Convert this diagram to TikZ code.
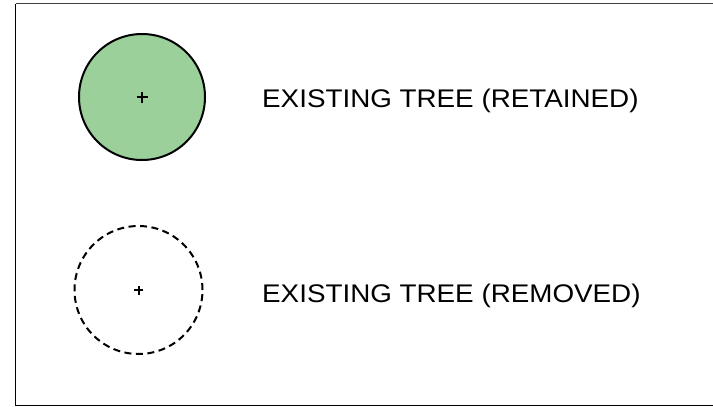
\documentclass[tikz,border=0pt]{standalone}
\usepackage{fontspec}
\setmainfont{Liberation Sans}
\tikzset{
  tree/.style={circle, draw=black, line width=2pt, minimum size=126pt, inner sep=0pt},
  legendtext/.style={anchor=base west, inner sep=0pt, font=\fontsize{25.5pt}{30pt}\selectfont},
  plusmark/.style={line width=2pt}
}
\definecolor{treegreen}{HTML}{9BD09B}
\begin{document}
\begin{tikzpicture}[x=1pt,y=-1pt]
\useasboundingbox (0,0) rectangle (713,407);
\draw[line width=1pt, draw=black!75] (15.5,3.5) -- (714,3.5);
\draw[line width=1pt] (15.5,3.5) -- (15.5,405.5) -- (714,405.5);
\node[tree, fill=treegreen] (ret) at (142,97) {};
\draw[plusmark] (136.5,97) -- (147.5,97) (142,91.5) -- (142,102.5);
\node[tree, minimum size=128pt, dash pattern=on 7pt off 4.5pt] (rem) at (138.5,290) {};
\draw[plusmark] (134,290) -- (143,290) (138.5,285.5) -- (138.5,294.5);
\node[legendtext] (t1) at (262,107.3) {\scalebox{1.09}[1]{EXISTING TREE (RETAINED)}};
\node[legendtext] (t2) at (262,302.3) {\scalebox{1.09}[1]{EXISTING TREE (REMOVED)}};
\end{tikzpicture}
\end{document}
